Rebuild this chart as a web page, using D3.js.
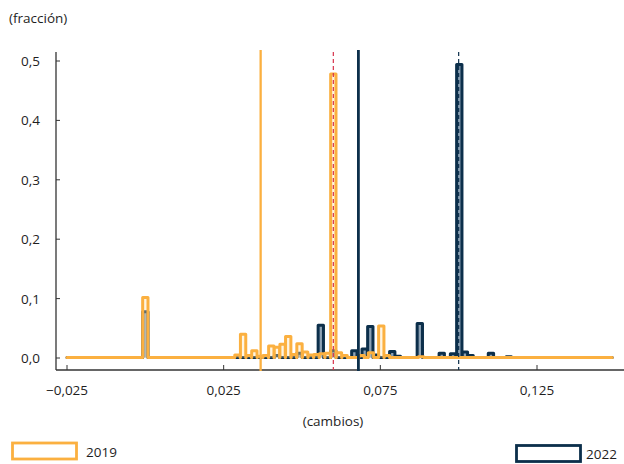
<!DOCTYPE html>
<html>
<head>
<meta charset="utf-8">
<script src="https://cdn.jsdelivr.net/npm/d3@7"></script>
<style>
body { margin: 0; background: #fff; }
text { font-family: "Open Sans", sans-serif; fill: #1e1e1e; }
</style>
</head>
<body>
<svg id="chart" width="624" height="464"></svg>
<script>
// histogram bins (bin centre, fraction)
var binWidth = 0.0017;
var xStart = -0.025, xEnd = 0.149;
var baseValue = 0.001;

var centers2019 = [0.0000, 0.0294, 0.0312, 0.0330, 0.0348, 0.0366, 0.0384, 0.0402, 0.0420, 0.0438, 0.0456, 0.0474, 0.0492, 0.0510, 0.0528, 0.0546, 0.0564, 0.0582, 0.0600, 0.0618, 0.0636, 0.0690, 0.0720, 0.0753, 0.0771, 0.0880];
var values2019  = [0.102, 0.005, 0.040, 0.004, 0.012, 0.003, 0.004, 0.020, 0.018, 0.023, 0.036, 0.006, 0.024, 0.010, 0.005, 0.006, 0.007, 0.008, 0.478, 0.009, 0.004, 0.004, 0.009, 0.054, 0.004, 0.002];

var centers2022 = [0.0000, 0.0420, 0.0492, 0.0560, 0.0600, 0.0667, 0.0700, 0.0718, 0.0736, 0.0788, 0.0806, 0.0876, 0.0946, 0.0982, 0.1002, 0.1020, 0.1038, 0.1103, 0.1160];
var values2022  = [0.078, 0.004, 0.008, 0.055, 0.012, 0.012, 0.015, 0.053, 0.005, 0.011, 0.003, 0.058, 0.008, 0.007, 0.494, 0.010, 0.004, 0.008, 0.002];

// solid = average, dashed = most frequent change
var meanLines = [0.0368, 0.0680];
var modeLines = [0.0600, 0.1000];

var years = ["2019", "2022"];
var xTicks = [-0.025, 0.025, 0.075, 0.125];
var yTicks = [0, 0.1, 0.2, 0.3, 0.4, 0.5];

var orange = "#fbb040", navy = "#0c2f4b", red = "#d7334c";
var fs = 13.5;

var svg = d3.select("#chart");
var x = d3.scaleLinear().domain([-0.025, 0.125]).range([67, 537]);
var y = d3.scaleLinear().domain([0, 0.5]).range([358, 61]);

function outline(centers, values) {
	var pts = [[xStart, baseValue]];
	centers.forEach(function(c, i) {
		var a = c - binWidth / 2, b = c + binWidth / 2;
		pts.push([a, baseValue], [a, values[i]], [b, values[i]], [b, baseValue]);
	});
	pts.push([xEnd, baseValue]);
	return pts;
}

var line = d3.line().x(function(d) { return x(d[0]); }).y(function(d) { return y(d[1]); });
var area = d3.area().x(function(d) { return x(d[0]); }).y0(y(baseValue)).y1(function(d) { return y(d[1]); });

// axes
svg.append("line").attr("x1", 56).attr("x2", 56).attr("y1", 52).attr("y2", 370)
	.attr("stroke", "#333").attr("stroke-width", 1.3);
svg.append("line").attr("x1", 56).attr("x2", 624).attr("y1", 370).attr("y2", 370)
	.attr("stroke", "#333").attr("stroke-width", 1.3);

yTicks.forEach(function(t) {
	svg.append("line").attr("x1", 56).attr("x2", 60).attr("y1", y(t)).attr("y2", y(t))
		.attr("stroke", "#333").attr("stroke-width", 1);
	svg.append("text").attr("x", 40).attr("y", y(t) + 5).attr("text-anchor", "end")
		.attr("font-size", fs).text(d3.format(".1f")(t).replace(".", ","));
});
xTicks.forEach(function(t) {
	svg.append("line").attr("x1", x(t)).attr("x2", x(t)).attr("y1", 370).attr("y2", 365)
		.attr("stroke", "#333").attr("stroke-width", 1);
	svg.append("text").attr("x", x(t)).attr("y", 395).attr("text-anchor", "middle")
		.attr("font-size", fs).text(d3.format(".3f")(t).replace(".", ",").replace("-", "\u2013"));
});

svg.append("text").attr("x", 9).attr("y", 23).attr("font-size", fs).text("(fracción)");
svg.append("text").attr("x", 333).attr("y", 426).attr("text-anchor", "middle").attr("font-size", fs).text("(cambios)");

// 2022 first, 2019 on top
var pts2022 = outline(centers2022, values2022);
svg.append("path").datum(pts2022).attr("d", area).attr("fill", "#5d7b95").attr("fill-opacity", 0.7);
svg.append("path").datum(pts2022).attr("d", line).attr("fill", "none")
	.attr("stroke", navy).attr("stroke-width", 3).attr("stroke-linejoin", "round").attr("stroke-linecap", "round");

var pts2019 = outline(centers2019, values2019);
svg.append("path").datum(pts2019).attr("d", area).attr("fill", "#fde2b0").attr("fill-opacity", 0.35);
svg.append("path").datum(pts2019).attr("d", line).attr("fill", "none")
	.attr("stroke", orange).attr("stroke-width", 3).attr("stroke-linejoin", "round").attr("stroke-linecap", "round");

// reference lines
svg.append("line").attr("x1", x(modeLines[0])).attr("x2", x(modeLines[0])).attr("y1", 52).attr("y2", 370)
	.attr("stroke", red).attr("stroke-width", 1.2).attr("stroke-dasharray", "4,3");
svg.append("line").attr("x1", x(modeLines[1])).attr("x2", x(modeLines[1])).attr("y1", 52).attr("y2", 370)
	.attr("stroke", navy).attr("stroke-width", 1.2).attr("stroke-dasharray", "4,3");
svg.append("line").attr("x1", x(meanLines[0])).attr("x2", x(meanLines[0])).attr("y1", 50).attr("y2", 371)
	.attr("stroke", orange).attr("stroke-width", 2.3);
svg.append("line").attr("x1", x(meanLines[1])).attr("x2", x(meanLines[1])).attr("y1", 50).attr("y2", 371)
	.attr("stroke", navy).attr("stroke-width", 2.8);

// legend
svg.append("rect").attr("x", 12.5).attr("y", 443).attr("width", 64).attr("height", 16)
	.attr("fill", "#fff").attr("stroke", orange).attr("stroke-width", 2.8);
svg.append("text").attr("x", 86).attr("y", 457).attr("font-size", fs).text(years[0]);
svg.append("rect").attr("x", 516.5).attr("y", 445.5).attr("width", 64).attr("height", 16)
	.attr("fill", "#fff").attr("stroke", navy).attr("stroke-width", 2.8);
svg.append("text").attr("x", 586).attr("y", 459).attr("font-size", fs).text(years[1]);
</script>
</body>
</html>
